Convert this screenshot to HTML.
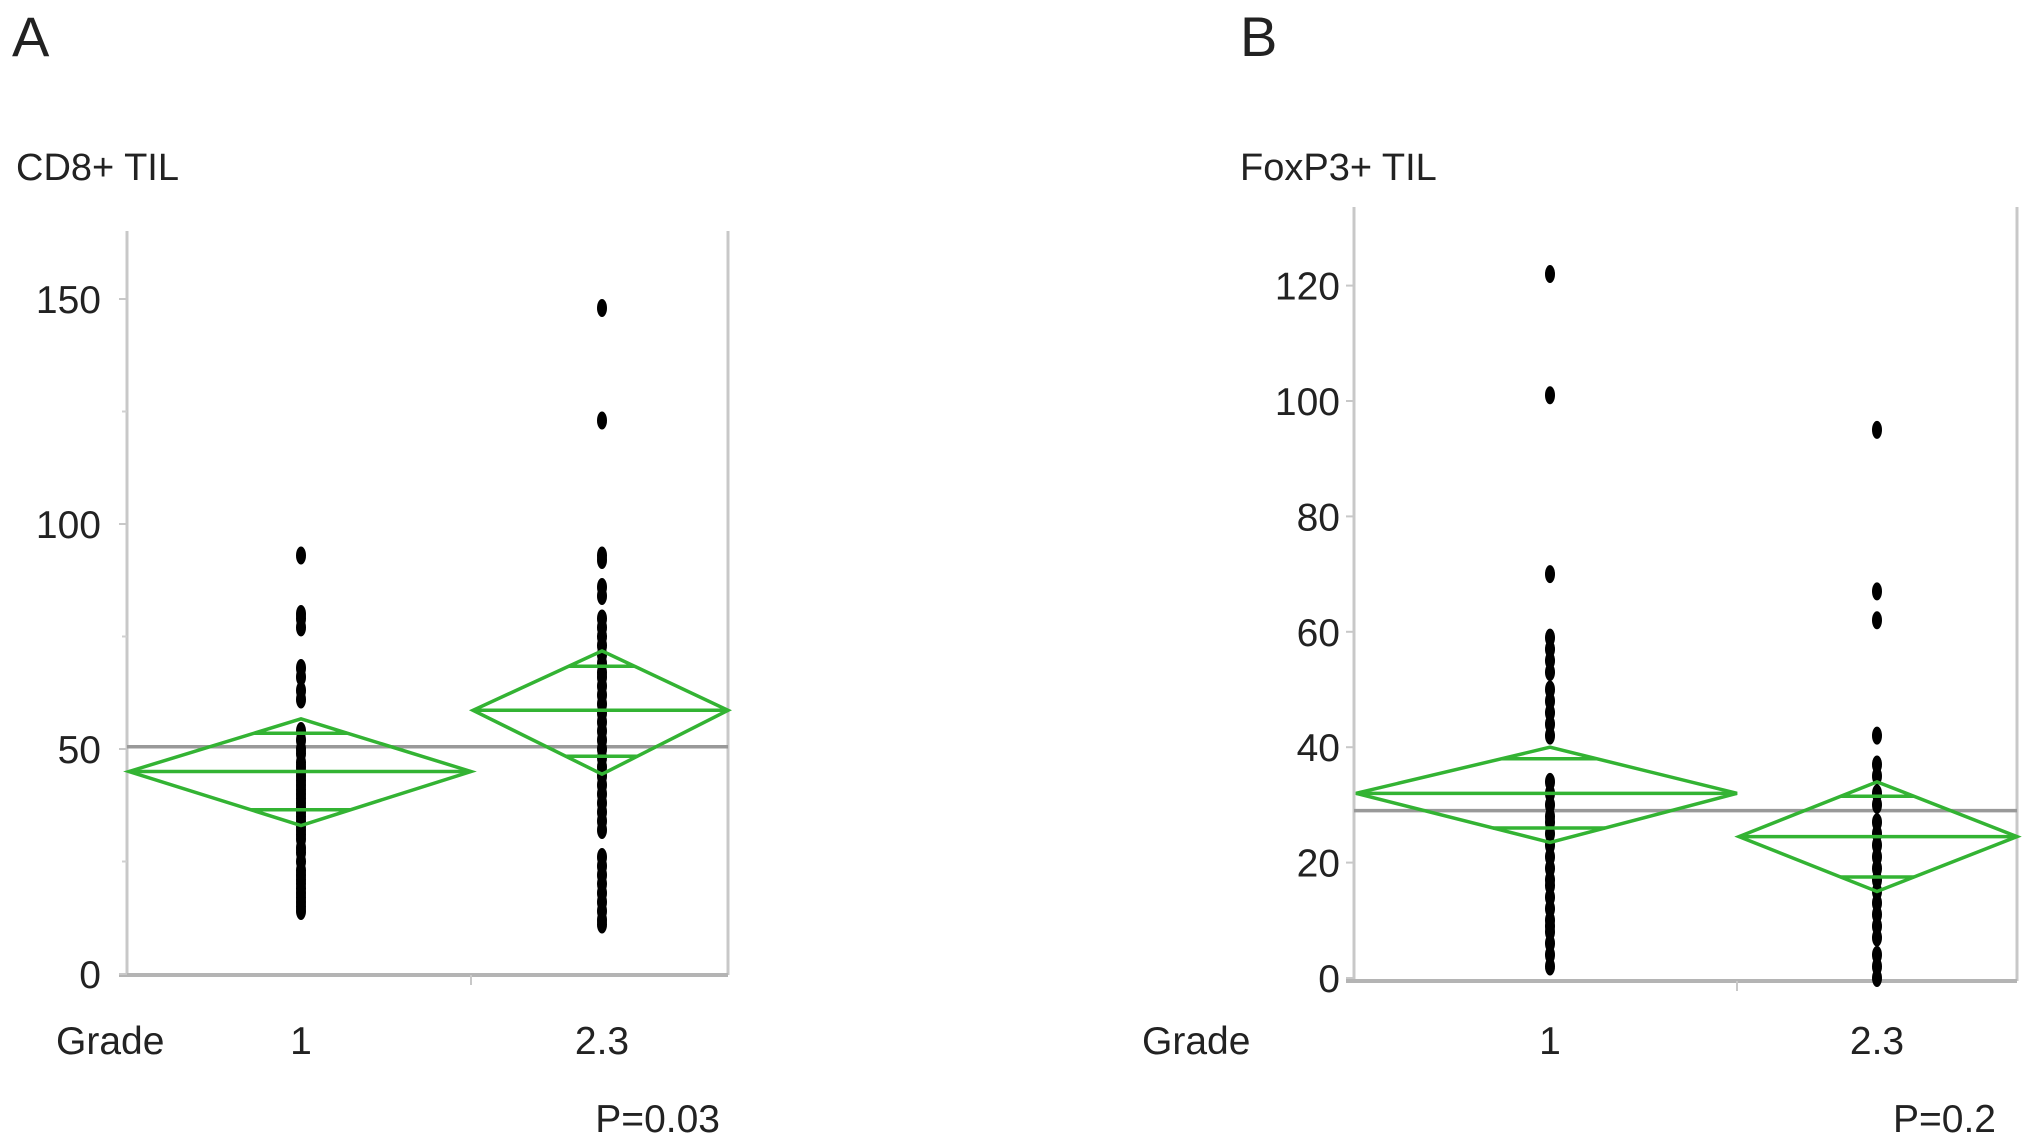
<!DOCTYPE html>
<html><head><meta charset="utf-8"><style>
html,body{margin:0;padding:0;background:#fff;}
svg{display:block;font-family:"Liberation Sans",Arial,sans-serif;}
</style></head><body>
<svg id="c" width="2031" height="1146" viewBox="0 0 2031 1146"></svg>
<script>
// Panel A data
const aCategories = ["1", "2.3"];
const aTicks = [0, 50, 100, 150];
const aPoints1 = [93,80,79,77,68,66,63,61,54,52,50,49,47,46,45,44,43,42,41,40,39,38,37,36,35,34,33,32,31,30,28,27,25,23,22,21,20,19,18,17,16,15,14];
const aPoints2 = [148,123,93,92,86,84,79,77,75,73,71,69,67,66,64,62,60,58,56,54,52,50,48,46,44,42,40,38,36,34,32,26,24,22,20,18,16,14,12,11];
const aMeans = [45, 58.6];
const aUpper = [56.7, 71.8];
const aLower = [33, 44.4];
const aInnerUp = [53.5, 68.4];
const aInnerLo = [36.5, 48.4];
const aGrand = [50.5];
// Panel B data
const bCategories = ["1", "2.3"];
const bTicks = [0, 20, 40, 60, 80, 100, 120];
const bPoints1 = [122,101,70,59,57,55,53,50,48,46,44,42,34,32,30,28,27,25,23,21,19,17,16,14,12,10,9,8,6,4,2];
const bPoints2 = [95,67,62,42,37,35,32,30,27,25,23,21,19,17,15,13,11,9,7,4,2,0];
const bMeans = [32, 24.5];
const bUpper = [40, 34];
const bLower = [23.5, 15];
const bInnerUp = [38, 31.5];
const bInnerLo = [26, 17.5];
const bGrand = [29];

const NS = "http://www.w3.org/2000/svg";
const svg = document.getElementById("c");
function mk(tag, attrs, parent){
  const e = document.createElementNS(NS, tag);
  for (const k in attrs) e.setAttribute(k, attrs[k]);
  (parent||svg).appendChild(e);
  return e;
}
function panel(cfg){
  const g = mk("g", {});
  
  
  const y = v => cfg.y0 - v * cfg.k;
  const catX = [cfg.c1, cfg.c2];
  let l = mk("line",{x1:cfg.left,y1:cfg.top,x2:cfg.left,y2:cfg.bottom,stroke:"#c8c8c8","stroke-width":3},g);
  
  
  l = mk("line",{x1:cfg.right,y1:cfg.top,x2:cfg.right,y2:cfg.bottom,stroke:"#c8c8c8","stroke-width":3},g);
  
  
  l = mk("line",{x1:cfg.left-8,y1:cfg.bottom,x2:cfg.right,y2:cfg.bottom,stroke:"#b4b4b4","stroke-width":4},g);
  
  
  l = mk("line",{x1:cfg.mid,y1:cfg.bottom,x2:cfg.mid,y2:cfg.bottom+10,stroke:"#c8c8c8","stroke-width":2},g);
  
  
  cfg.ticks.forEach((t,i)=>{
    const tk = mk("line",{x1:cfg.left-8,y1:y(t),x2:cfg.left,y2:y(t),stroke:"#c8c8c8","stroke-width":2},g);
    
    
    if (cfg.minor && i < cfg.ticks.length-1){
      const mt = mk("line",{x1:cfg.left-5,y1:y(t+cfg.step/2),x2:cfg.left,y2:y(t+cfg.step/2),stroke:"#d0d0d0","stroke-width":2},g);
      
      
    }
    const tx = mk("text",{x:cfg.left-cfg.labelGap,y:y(t)+14,"text-anchor":"end","font-size":39,fill:"#222"},g);
    tx.textContent = t;
    
    
  });
  l = mk("line",{x1:cfg.left,y1:y(cfg.grand[0]),x2:cfg.right,y2:y(cfg.grand[0]),stroke:"#999","stroke-width":3.5},g);
  
  
  [cfg.p1, cfg.p2].forEach((arr,ci)=>{
    arr.forEach(v=>{
      const d = mk("ellipse",{cx:catX[ci],cy:y(v),rx:5,ry:9,fill:"#000"},g);
      
      
    });
  });
  const spans = [[cfg.left+2, cfg.mid],[cfg.mid+2, cfg.right]];
  [0,1].forEach(ci=>{
    const [x0,x1] = spans[ci], cx = catX[ci];
    const m = y(cfg.means[ci]), up = y(cfg.upper[ci]), lo = y(cfg.lower[ci]);
    const dg = mk("g",{},g);
    
    
    mk("polygon",{points:`${x0},${m} ${cx},${up} ${x1},${m} ${cx},${lo}`,fill:"none",stroke:"#33b333","stroke-width":3.5},dg);
    mk("line",{x1:x0,y1:m,x2:x1,y2:m,stroke:"#33b333","stroke-width":3.5},dg);
    [cfg.iu[ci], cfg.il[ci]].forEach((v,j)=>{
      const yy = y(v);
      const lim = j===0 ? up : lo;
      const frac = (yy - m)/(lim - m);
      const half = (1-frac);
      const xl = cx - (cx - x0)*half, xr = cx + (x1 - cx)*half;
      mk("line",{x1:xl,y1:yy,x2:xr,y2:yy,stroke:"#33b333","stroke-width":3.5},dg);
    });
  });
  cfg.cats.forEach((c,i)=>{
    const t = mk("text",{x:catX[i],y:1054,"text-anchor":"middle","font-size":39,fill:"#222"},g);
    t.textContent = c;
    
    
  });
}
panel({name:"panel-a-chart",left:127,right:728,top:231,bottom:975,mid:471,c1:301,c2:602,y0:974,k:4.5,labelGap:26,
  ticks:aTicks,step:50,minor:true,p1:aPoints1,p2:aPoints2,means:aMeans,upper:aUpper,lower:aLower,iu:aInnerUp,il:aInnerLo,grand:aGrand,cats:aCategories});
panel({name:"panel-b-chart",left:1354,right:2017,top:207,bottom:981,mid:1737,c1:1550,c2:1877,y0:978,k:5.77,labelGap:14,
  ticks:bTicks,step:20,minor:false,p1:bPoints1,p2:bPoints2,means:bMeans,upper:bUpper,lower:bLower,iu:bInnerUp,il:bInnerLo,grand:bGrand,cats:bCategories});

function txt(x,y,s,size,name,anchor){
  const t = mk("text",{x:x,y:y,"font-size":size,fill:"#222","text-anchor":anchor||"start"});
  t.textContent = s;
  
  
}
txt(12,56,"A",56,"panel-a-letter");
txt(1240,56,"B",56,"panel-b-letter");
txt(16,180,"CD8+ TIL",38,"panel-a-title");
txt(1240,180,"FoxP3+ TIL",38,"panel-b-title");
txt(56,1054,"Grade",39,"panel-a-x-label");
txt(1142,1054,"Grade",39,"panel-b-x-label");
txt(720,1132,"P=0.03",39,"panel-a-p-value","end");
txt(1996,1132,"P=0.2",39,"panel-b-p-value","end");
</script>
</body></html>
